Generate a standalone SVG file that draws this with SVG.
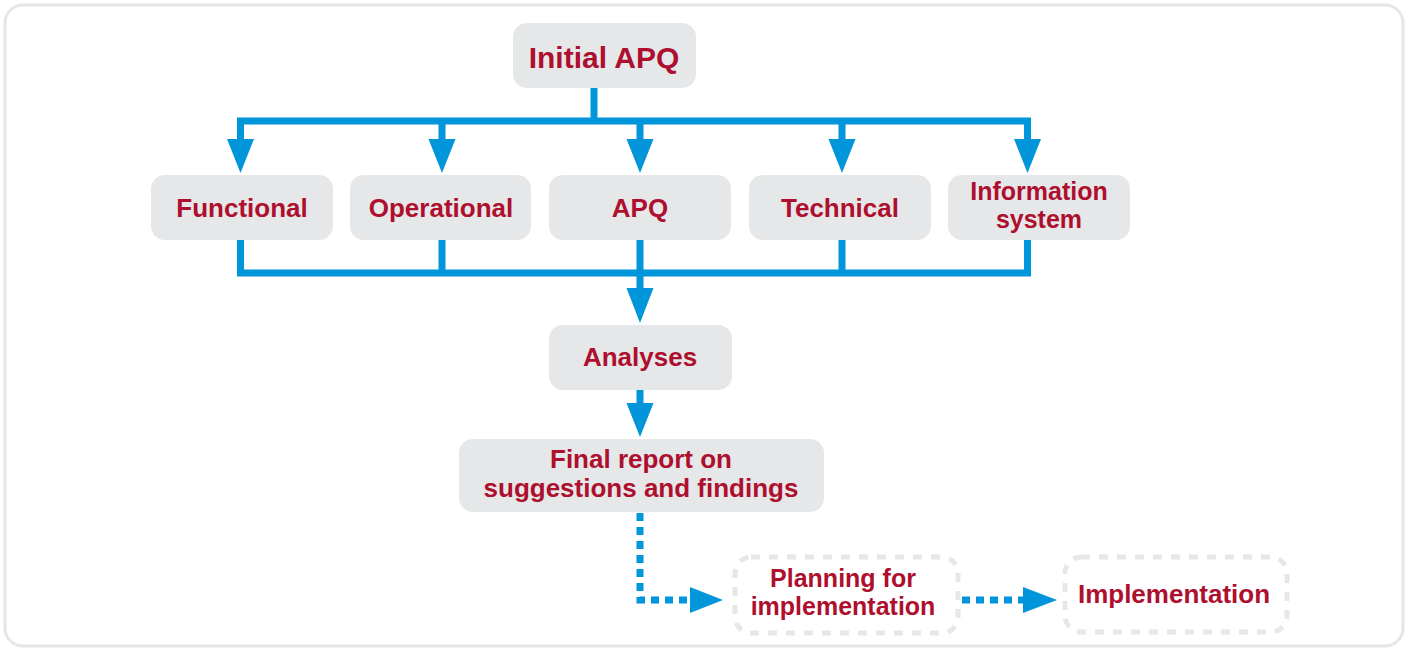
<svg xmlns="http://www.w3.org/2000/svg" width="1409" height="648" viewBox="0 0 1409 648">
<style>
.box{fill:#e6e7e8}
.dbox{fill:none;stroke:#e6e7e8;stroke-width:5;stroke-dasharray:9 9}
.t{font-family:"Liberation Sans",Arial,sans-serif;font-weight:bold;font-size:26px;fill:#ae0f2e;text-anchor:middle}
.t2{font-size:25px}
.big{font-size:30px}
.ln{fill:none;stroke:#0096d9;stroke-width:7;stroke-linejoin:miter}
.dl{fill:none;stroke:#0096d9;stroke-width:7;stroke-dasharray:8 6}
.ah{fill:#0096d9}
</style>
<rect x="5" y="5" width="1398" height="641" rx="18" fill="#fff" stroke="#e6e6e6" stroke-width="3"/>
<g id="connectors">
<path class="ln" d="M594 88V121"/>
<path class="ln" d="M240.5 139V121H1027.5V139"/>
<path class="ln" d="M442 121V139M640 121V139M842 121V139"/>
<polygon class="ah" points="227,139 254,139 240.5,173"/>
<polygon class="ah" points="428.5,139 455.5,139 442,173"/>
<polygon class="ah" points="626.5,139 653.5,139 640,173"/>
<polygon class="ah" points="828.5,139 855.5,139 842,173"/>
<polygon class="ah" points="1014,139 1041,139 1027.5,173"/>
<path class="ln" d="M240.5 240V273H1027.5V240"/>
<path class="ln" d="M442 240V273M640 240V288M842 240V273"/>
<polygon class="ah" points="626.5,288 653.5,288 640,323"/>
<path class="ln" d="M640 390V403"/>
<polygon class="ah" points="626.5,403 653.5,403 640,437"/>
<path class="dl" d="M640 513V600H690"/>
<polygon class="ah" points="690,587 723,600 690,613"/>
<path class="dl" d="M962 600H1023"/>
<polygon class="ah" points="1023,587 1057,600 1023,613"/>
</g>
<g id="initial-apq"><rect class="box" x="513" y="23" width="183" height="65" rx="14"/><text class="t big" x="604" y="68">Initial APQ</text></g>
<g id="functional"><rect class="box" x="151" y="175" width="182" height="65" rx="14"/><text class="t" x="242" y="217">Functional</text></g>
<g id="operational"><rect class="box" x="350" y="175" width="181" height="65" rx="14"/><text class="t" x="441" y="217">Operational</text></g>
<g id="apq"><rect class="box" x="549" y="175" width="182" height="65" rx="14"/><text class="t" x="640" y="217">APQ</text></g>
<g id="technical"><rect class="box" x="749" y="175" width="182" height="65" rx="14"/><text class="t" x="840" y="217">Technical</text></g>
<g id="information-system"><rect class="box" x="948" y="175" width="182" height="65" rx="14"/><text class="t t2" x="1039" y="200">Information</text><text class="t t2" x="1039" y="228">system</text></g>
<g id="analyses"><rect class="box" x="549" y="325" width="183" height="65" rx="14"/><text class="t" x="640" y="366">Analyses</text></g>
<g id="final-report"><rect class="box" x="459" y="439" width="365" height="73" rx="14"/><text class="t" x="641" y="468">Final report on</text><text class="t" x="641" y="497">suggestions and findings</text></g>
<g id="planning"><rect class="dbox" x="735" y="557" width="223" height="76" rx="16"/><text class="t t2" x="843" y="587">Planning for</text><text class="t t2" x="843" y="615">implementation</text></g>
<g id="implementation"><rect class="dbox" x="1065" y="557" width="222" height="75" rx="16"/><text class="t" x="1174" y="603">Implementation</text></g>
</svg>
